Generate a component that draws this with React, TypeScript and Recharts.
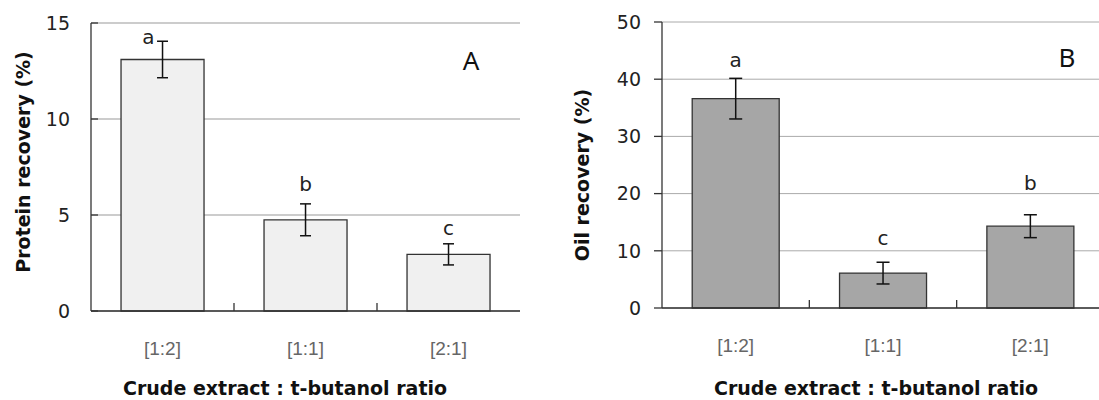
import React from 'react';
import {
	ComposedChart, Bar, ErrorBar, Scatter, XAxis, YAxis, CartesianGrid,
} from 'recharts';

const categories = ['[1:2]', '[1:1]', '[2:1]'];

const proteinRecovery = [13.1, 4.75, 2.95];
const proteinError = [0.95, 0.83, 0.55];
const proteinLetters = ['a', 'b', 'c'];
const proteinLetterY = [14.3, 6.65, 4.35];
const proteinTicks = [0, 5, 10, 15];

const oilRecovery = [36.6, 6.1, 14.3];
const oilError = [3.55, 1.9, 2.0];
const oilLetters = ['a', 'c', 'b'];
const oilLetterY = [43.4, 12.2, 21.9];
const oilTicks = [0, 10, 20, 30, 40, 50];

const proteinData = categories.map((cat, i) => ({
	cat, value: proteinRecovery[i], err: proteinError[i],
	letter: proteinLetters[i], letterY: proteinLetterY[i],
}));

const oilData = categories.map((cat, i) => ({
	cat, value: oilRecovery[i], err: oilError[i],
	letter: oilLetters[i], letterY: oilLetterY[i],
}));

const TICK_FONT = '"DejaVu Sans", sans-serif';

// y tick: label on the left, tick mark inside (A) or outside (B)
const yTick = (inside: boolean) => (props: any) => {
	const { x, y, payload } = props;
	return (
		<g>
			<line x1={inside ? x : x - 8} x2={inside ? x + 7 : x} y1={y} y2={y} stroke="#333" strokeWidth={1.3} />
			<text x={x - 21} y={y} dy="0.36em" textAnchor="end" fontFamily={TICK_FONT} fontSize={19} fill="#222">
				{payload.value}
			</text>
		</g>
	);
};

// x tick: category label under the band, small inner tick at the band boundary
const xTick = (props: any) => {
	const { x, y, payload, index, visibleTicksCount } = props;
	const off = payload.offset || 0;
	return (
		<g>
			{index < visibleTicksCount - 1 && (
				<line x1={x + off} x2={x + off} y1={y} y2={y - 8} stroke="#333" strokeWidth={1.3} />
			)}
			<text x={x} y={y + 37} dy="0.36em" textAnchor="middle" fontFamily='"Liberation Sans", Arial, sans-serif' fontSize={19} fill="#666">
				{payload.value}
			</text>
		</g>
	);
};

const letterShape = (shift: (i: number) => number) => (props: any) => {
	const { cx, cy, payload, index } = props;
	return (
		<text x={cx + shift(index)} y={cy} dy="0.36em" textAnchor="middle" fontFamily={TICK_FONT} fontSize={20} fill="#222">
			{payload.letter}
		</text>
	);
};

const titleStyle: React.CSSProperties = {
	position: 'absolute', whiteSpace: 'nowrap', fontFamily: TICK_FONT,
	fontWeight: 'bold', fontSize: 19, color: '#111', lineHeight: 1,
	transform: 'translate(-50%, -50%)',
};

const panelStyle: React.CSSProperties = {
	position: 'absolute', fontFamily: '"Noto Sans", sans-serif', fontSize: 26,
	color: '#111', lineHeight: 1, transform: 'translate(-50%, -50%)',
};

export default function App() {
	return (
		<div style={{ position: 'absolute', left: 0, top: 0, width: 1099, height: 400, overflow: 'hidden', background: '#fff' }}>
			<div style={{ position: 'absolute', left: 0, top: 0 }}>
				<ComposedChart width={560} height={400} data={proteinData} barCategoryGap="21%"
					margin={{ top: 23, right: 40, left: 31, bottom: 29 }}>
					<CartesianGrid vertical={false} stroke="#999" />
					<XAxis dataKey="cat" height={60} tickSize={0} tickMargin={0} tick={xTick}
						axisLine={{ stroke: '#333', strokeWidth: 1.5 }} tickLine={false} />
					<XAxis xAxisId="top" dataKey="cat" orientation="top" height={0} tick={false}
						axisLine={{ stroke: '#333', strokeWidth: 1.3 }} tickLine={false} />
					<YAxis domain={[0, 15]} ticks={proteinTicks} width={60} tickSize={0} tickMargin={0}
						tick={yTick(true)} axisLine={{ stroke: '#333', strokeWidth: 1.3 }} tickLine={false} />
					<YAxis yAxisId="right" orientation="right" domain={[0, 15]} width={0} tick={false}
						axisLine={{ stroke: '#333', strokeWidth: 1.3 }} tickLine={false} />
					<Bar dataKey="value" fill="#f0f0f0" stroke="#333" strokeWidth={1.3} isAnimationActive={false}>
						<ErrorBar dataKey="err" width={5.5} stroke="#111" strokeWidth={1.5} direction="y" isAnimationActive={false} />
					</Bar>
					<Scatter dataKey="letterY" shape={letterShape((i) => (i === 0 ? -14 : 0))} isAnimationActive={false} />
				</ComposedChart>
			</div>
			<div style={{ position: 'absolute', left: 560, top: 0 }}>
				<ComposedChart width={560} height={400} data={oilData} barCategoryGap="20.5%"
					margin={{ top: 22, right: 16, left: 32, bottom: 32 }}>
					<CartesianGrid vertical={false} stroke="#aaa" />
					<XAxis dataKey="cat" height={60} tickSize={0} tickMargin={0} tick={xTick}
						axisLine={{ stroke: '#333', strokeWidth: 1.5 }} tickLine={false} />
					<XAxis xAxisId="top" dataKey="cat" orientation="top" height={0} tick={false}
						axisLine={{ stroke: '#333', strokeWidth: 1.3 }} tickLine={false} />
					<YAxis domain={[0, 50]} ticks={oilTicks} width={70} tickSize={0} tickMargin={0}
						tick={yTick(false)} axisLine={{ stroke: '#333', strokeWidth: 1.3 }} tickLine={false} />
					<Bar dataKey="value" fill="#a6a6a6" stroke="#333" strokeWidth={1.3} isAnimationActive={false}>
						<ErrorBar dataKey="err" width={6.5} stroke="#111" strokeWidth={1.5} direction="y" isAnimationActive={false} />
					</Bar>
					<Scatter dataKey="letterY" shape={letterShape(() => 0)} isAnimationActive={false} />
				</ComposedChart>
			</div>

			<div style={{ ...titleStyle, left: 22.5, top: 162, transform: 'translate(-50%, -50%) rotate(-90deg)' }}>
				Protein recovery (%)
			</div>
			<div style={{ ...titleStyle, left: 582, top: 175, transform: 'translate(-50%, -50%) rotate(-90deg)' }}>
				Oil recovery (%)
			</div>
			<div style={{ ...titleStyle, left: 285, top: 388 }}>Crude extract : t-butanol ratio</div>
			<div style={{ ...titleStyle, left: 876, top: 388 }}>Crude extract : t-butanol ratio</div>

			<div style={{ ...panelStyle, left: 471, top: 60 }}>A</div>
			<div style={{ ...panelStyle, left: 1067, top: 57 }}>B</div>
		</div>
	);
}
